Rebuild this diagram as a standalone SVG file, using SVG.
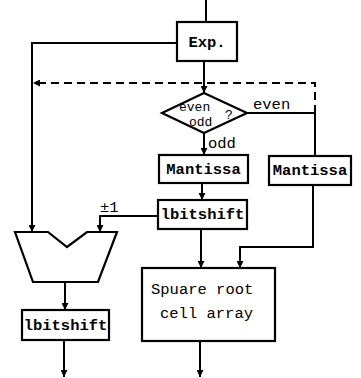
<svg xmlns="http://www.w3.org/2000/svg" width="361" height="378" viewBox="0 0 361 378">
  <style>
    .box { fill: #fff; stroke: #000; stroke-width: 2.2; }
    .line { fill: none; stroke: #000; stroke-width: 2; }
    .dash { fill: none; stroke: #000; stroke-width: 2; stroke-dasharray: 8 5; }
    .lbl { font-family: "Liberation Mono", "DejaVu Sans Mono", monospace; font-size: 15.5px; font-weight: bold; fill: #000; }
    .txt { font-family: "Liberation Mono", "DejaVu Sans Mono", monospace; font-size: 15.5px; fill: #000; }
    .small { font-family: "Liberation Mono", "DejaVu Sans Mono", monospace; font-size: 13px; fill: #000; }
  </style>
  <defs>
    <marker id="arrow" viewBox="0 0 10 10" refX="10" refY="5" markerWidth="7" markerHeight="7" markerUnits="userSpaceOnUse" orient="auto">
      <path d="M0,0 L10,5 L0,10 Z" fill="#000"/>
    </marker>
  </defs>

  <rect width="361" height="378" fill="#fff"/>

  <!-- connectors -->
  <g id="connectors">
    <path class="line" d="M206,0 V22"/>
    <path class="line" d="M204,61 V93" marker-end="url(#arrow)"/>
    <path class="line" d="M177,43 H32 V232" marker-end="url(#arrow)"/>
    <path class="dash" d="M315,113 V83 H33" marker-end="url(#arrow)"/>
    <path class="line" d="M247,113 H315 V156"/>
    <path class="line" d="M204,133 V155" marker-end="url(#arrow)"/>
    <path class="line" d="M202,183 V200" marker-end="url(#arrow)"/>
    <path class="line" d="M158,216 H100 V232" marker-end="url(#arrow)"/>
    <path class="line" d="M201,229 V268" marker-end="url(#arrow)"/>
    <path class="line" d="M313,185 V247 H240 V268" marker-end="url(#arrow)"/>
    <path class="line" d="M200,341 V377" marker-end="url(#arrow)"/>
    <path class="line" d="M65,282 V310" marker-end="url(#arrow)"/>
    <path class="line" d="M64,340 V377" marker-end="url(#arrow)"/>
    <text class="txt" x="253" y="109">even</text>
    <text class="txt" x="208" y="148">odd</text>
    <text class="txt" x="100" y="212">±1</text>
  </g>

  <g id="exp">
    <rect class="box" x="177" y="22" width="60" height="39"/>
    <text class="lbl" x="207" y="47" text-anchor="middle">Exp.</text>
  </g>

  <g id="parity">
    <path class="box" d="M204,93 L247,113 L204,133 L162,113 Z"/>
    <text class="small" x="179" y="111">even</text>
    <text class="small" x="189" y="126">odd</text>
    <text class="small" x="225" y="119">?</text>
  </g>

  <g id="mantissa-odd">
    <rect class="box" x="159" y="155" width="89" height="28"/>
    <text class="lbl" x="203.5" y="174" text-anchor="middle">Mantissa</text>
  </g>

  <g id="mantissa-even">
    <rect class="box" x="269" y="156" width="82" height="29"/>
    <text class="lbl" x="310" y="175" text-anchor="middle">Mantissa</text>
  </g>

  <g id="shift-mantissa">
    <rect class="box" x="158" y="200" width="89" height="29"/>
    <text class="lbl" x="202.5" y="219" text-anchor="middle">lbitshift</text>
  </g>

  <g id="adder">
    <path class="box" d="M15,232 L48,232 L67,247 L87,232 L117,232 L98,282 L33,282 Z"/>
  </g>

  <g id="shift-exp">
    <rect class="box" x="22" y="310" width="87" height="30"/>
    <text class="lbl" x="65.5" y="330" text-anchor="middle">lbitshift</text>
  </g>

  <g id="sqrt-array">
    <rect class="box" x="142" y="268" width="133" height="73"/>
    <text class="txt" x="151" y="294">Spuare root</text>
    <text class="txt" x="160" y="318">cell array</text>
  </g>
</svg>
